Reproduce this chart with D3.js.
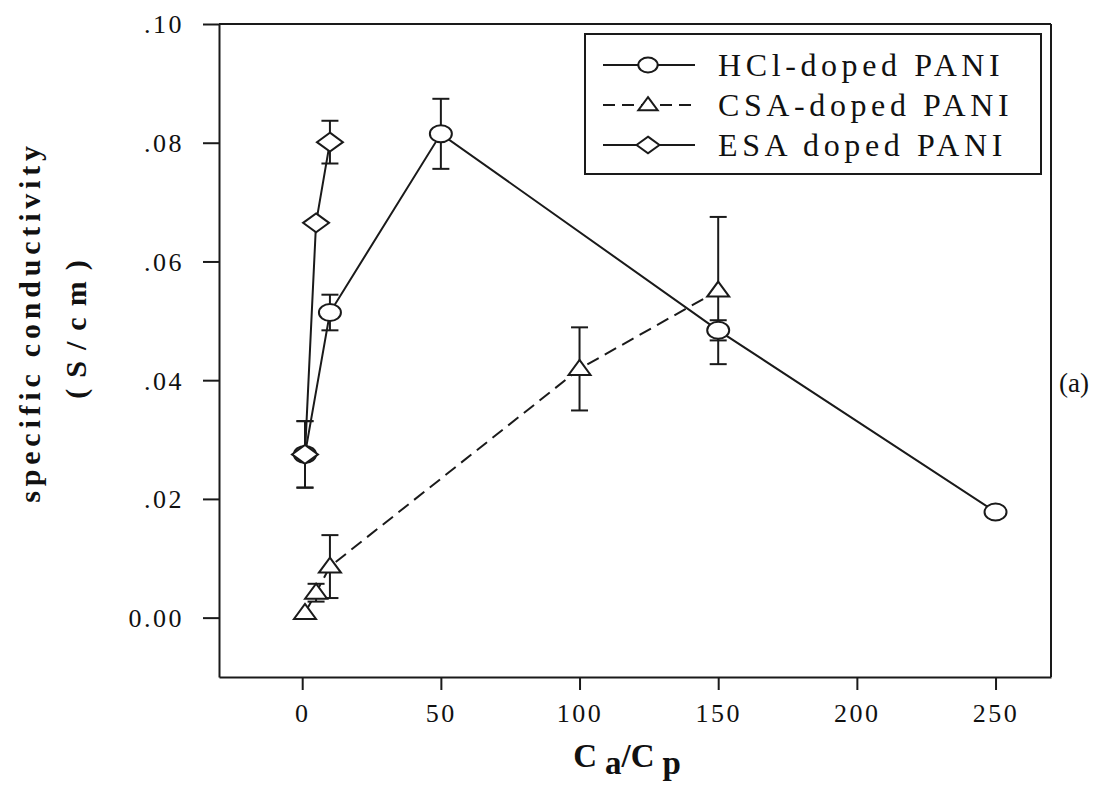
<!DOCTYPE html>
<html>
<head>
<meta charset="utf-8">
<script src="https://cdn.jsdelivr.net/npm/d3@7"></script>
<style>
  html, body { margin: 0; padding: 0; background: #fff; }
  svg { display: block; }
  text { font-family: "Liberation Serif", "Times New Roman", serif; fill: #111; }
</style>
</head>
<body>
<svg id="chart" width="1108" height="792"></svg>
<script>
// Conductivity vs. acid/polymer ratio for three dopants
const hclX   = [1, 10, 50, 150, 250];
const hclY   = [0.0275, 0.0514, 0.0815, 0.0484, 0.0178];
const hclErr = [0.0056, 0.0030, 0.0059, 0.0017, 0];

const csaX   = [1, 5, 10, 100, 150];
const csaY   = [0.0008, 0.0042, 0.0086, 0.0419, 0.0551];
const csaErr = [0, 0.0015, 0.0053, 0.0070, 0.0124];

const esaX   = [1, 5, 10];
const esaY   = [0.0275, 0.0665, 0.0801];
const esaErr = [0.0056, 0, 0.0036];

const xTicks = [0, 50, 100, 150, 200, 250];
const yTicks = [0, 0.02, 0.04, 0.06, 0.08, 0.10];
const yTickLabels = ["0.00", ".02", ".04", ".06", ".08", ".10"];

const seriesNames = ["HCl-doped PANI", "CSA-doped PANI", "ESA doped PANI"];

const series = [
  { name: seriesNames[0], xs: hclX, ys: hclY, err: hclErr, marker: "circle",   dash: null },
  { name: seriesNames[1], xs: csaX, ys: csaY, err: csaErr, marker: "triangle", dash: "13,7" },
  { name: seriesNames[2], xs: esaX, ys: esaY, err: esaErr, marker: "diamond",  dash: null }
];

const svg = d3.select("#chart");
const ink = "#1a1a1a";
const serif = "'Liberation Serif', 'Times New Roman', serif";

const x = d3.scaleLinear().domain([-30, 270]).range([219, 1051]);
const y = d3.scaleLinear().domain([-0.01, 0.10]).range([677, 24]);

// marker path generators (centred at 0,0)
function markerPath(kind, s) {
  s = s || 1;
  if (kind === "circle") {
    const rx = 11 * s, ry = 8.5 * s;
    return `M${-rx},0A${rx},${ry} 0 1,0 ${rx},0A${rx},${ry} 0 1,0 ${-rx},0Z`;
  }
  if (kind === "diamond") {
    const w = 13 * s, h = 9.5 * s;
    return `M0,${-h}L${w},0L0,${h}L${-w},0Z`;
  }
  const w = 11 * s, h = 15 * s;
  return `M0,${-h * 0.6}L${w},${h * 0.4}L${-w},${h * 0.4}Z`;
}

// axes
const yAxis = d3.axisLeft(y)
  .tickValues(yTicks)
  .tickFormat((d, i) => yTickLabels[i])
  .tickSize(16).tickSizeOuter(0).tickPadding(19);
const xAxis = d3.axisBottom(x)
  .tickValues(xTicks)
  .tickFormat(d3.format("d"))
  .tickSize(13).tickSizeOuter(0).tickPadding(14);

const gy = svg.append("g").attr("transform", `translate(${x.range()[0]},0)`).call(yAxis);
const gx = svg.append("g").attr("transform", `translate(0,${y.range()[0]})`).call(xAxis);

[gx, gy].forEach(g => {
  g.attr("font-family", serif);
  g.selectAll("path, line").attr("stroke", ink).attr("stroke-width", 2);
  g.selectAll("text")
    .attr("fill", "#111")
    .style("font-family", serif)
    .style("font-size", "26px")
    .style("letter-spacing", "2.5px");
});
gy.selectAll("text").attr("dy", "0.34em");

// top and right frame lines
svg.append("line")
  .attr("x1", x.range()[0]).attr("x2", x.range()[1])
  .attr("y1", y.range()[1]).attr("y2", y.range()[1])
  .attr("stroke", ink).attr("stroke-width", 2);
svg.append("line")
  .attr("x1", x.range()[1]).attr("x2", x.range()[1])
  .attr("y1", y.range()[1]).attr("y2", y.range()[0])
  .attr("stroke", ink).attr("stroke-width", 2);

// connecting lines
const lineGen = d3.line().x(d => x(d[0])).y(d => y(d[1]));
series.forEach(s => {
  const pts = s.xs.map((v, i) => [v, s.ys[i]]);
  svg.append("path")
    .attr("d", lineGen(pts))
    .attr("fill", "none")
    .attr("stroke", ink)
    .attr("stroke-width", 2)
    .attr("stroke-dasharray", s.dash);
});

// error bars
const cap = 8.5;
series.forEach(s => {
  s.xs.forEach((v, i) => {
    const e = s.err[i];
    if (!e) return;
    const cx = x(v), top = y(s.ys[i] + e), bot = y(s.ys[i] - e);
    const g = svg.append("g").attr("stroke", ink).attr("stroke-width", 2);
    g.append("line").attr("x1", cx).attr("x2", cx).attr("y1", top).attr("y2", bot);
    g.append("line").attr("x1", cx - cap).attr("x2", cx + cap).attr("y1", top).attr("y2", top);
    g.append("line").attr("x1", cx - cap).attr("x2", cx + cap).attr("y1", bot).attr("y2", bot);
  });
});

// markers
series.forEach(s => {
  svg.append("g").selectAll("path")
    .data(s.xs.map((v, i) => [v, s.ys[i]]))
    .join("path")
    .attr("transform", d => `translate(${x(d[0])},${y(d[1])})`)
    .attr("d", markerPath(s.marker))
    .attr("fill", "#fff")
    .attr("stroke", ink)
    .attr("stroke-width", 2);
});

// legend
const legend = svg.append("g");
legend.append("rect")
  .attr("x", 585).attr("y", 34).attr("width", 456).attr("height", 140)
  .attr("fill", "#fff").attr("stroke", ink).attr("stroke-width", 2);
const rowY = [65, 105, 145];
series.forEach((s, i) => {
  const ry = rowY[i];
  legend.append("line")
    .attr("x1", 603).attr("x2", 695).attr("y1", ry).attr("y2", ry)
    .attr("stroke", ink).attr("stroke-width", 2)
    .attr("stroke-dasharray", s.dash ? "12,7" : null);
  legend.append("path")
    .attr("transform", `translate(648,${ry})`)
    .attr("d", markerPath(s.marker, 0.88))
    .attr("fill", "#fff").attr("stroke", ink).attr("stroke-width", 2);
  legend.append("text")
    .attr("x", 718).attr("y", ry + 11)
    .style("font-size", "32px")
    .style("letter-spacing", "4.6px")
    .text(s.name);
});

// axis titles
svg.append("text")
  .attr("transform", "translate(40,322) rotate(-90)")
  .attr("text-anchor", "middle")
  .style("font-size", "30px").style("font-weight", "bold").style("letter-spacing", "4.8px")
  .text("specific conductivity");
svg.append("text")
  .attr("transform", "translate(86,324) rotate(-90)")
  .attr("text-anchor", "middle")
  .style("font-size", "30px").style("font-weight", "bold").style("letter-spacing", "11px")
  .text("(S/cm)");

const xTitle = svg.append("text")
  .attr("x", 627).attr("y", 767)
  .attr("text-anchor", "middle")
  .style("font-size", "33px").style("font-weight", "bold");
xTitle.append("tspan").text("C");
xTitle.append("tspan").attr("dx", 8).attr("dy", 7).text("a");
xTitle.append("tspan").attr("dy", -7).text("/C");
xTitle.append("tspan").attr("dx", 8).attr("dy", 7).text("p");

// panel tag
svg.append("text")
  .attr("x", 1059).attr("y", 392)
  .style("font-size", "27px")
  .text("(a)");
</script>
</body>
</html>
